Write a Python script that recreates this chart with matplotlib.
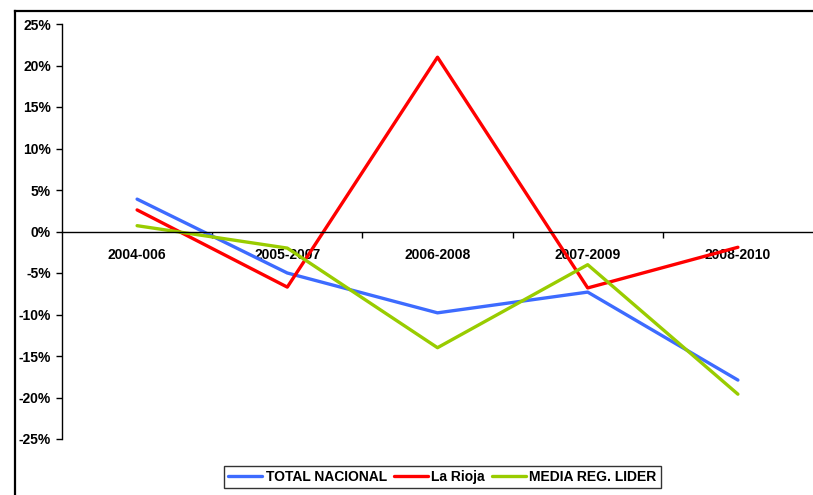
import matplotlib
matplotlib.use("Agg")
import matplotlib.pyplot as plt
from matplotlib.lines import Line2D
from matplotlib.ticker import FixedLocator, FuncFormatter

plt.rcParams['font.family'] = ['Liberation Sans', 'DejaVu Sans']

categories = ["2004-006", "2005-2007", "2006-2008", "2007-2009", "2008-2010"]
total_nacional = [3.9, -5.0, -9.8, -7.3, -17.9]
la_rioja = [2.6, -6.7, 21.0, -6.8, -1.9]
media_reg_lider = [0.7, -2.0, -14.0, -4.0, -19.6]
y_ticks = [-25, -20, -15, -10, -5, 0, 5, 10, 15, 20, 25]

W, H = 813, 495
fig = plt.figure(figsize=(W / 100, H / 100), dpi=100)

# outer frame (left and top edges only visible)
fig.lines.append(Line2D([15 / W, 15 / W], [0, 1 - 11 / H], transform=fig.transFigure,
                        color='black', linewidth=1.6))
fig.lines.append(Line2D([15 / W, 1], [1 - 11 / H, 1 - 11 / H], transform=fig.transFigure,
                        color='black', linewidth=1.6))

ax = fig.add_axes([62 / W, (H - 439) / H, (W - 62) / W, (439 - 24) / H])
x = list(range(len(categories)))
ax.plot(x, total_nacional, color='#3D6BFF', lw=2.4, label='TOTAL NACIONAL', solid_capstyle='round')
ax.plot(x, la_rioja, color='#FF0000', lw=2.4, label='La Rioja', solid_capstyle='round')
ax.plot(x, media_reg_lider, color='#99CC00', lw=2.4, label='MEDIA REG. LIDER', solid_capstyle='round')

ax.set_xlim(-0.5, len(categories) - 0.5)
ax.set_ylim(-25, 25)
ax.set_yticks(y_ticks)
ax.yaxis.set_major_formatter(FuncFormatter(lambda v, p: f"{int(round(v))}%"))
for lab in ax.get_yticklabels():
    lab.set_fontweight('bold')
ax.tick_params(axis='y', direction='out', length=4, width=1, labelsize=10, pad=4)

ax.spines['top'].set_visible(False)
ax.spines['right'].set_visible(False)
ax.spines['bottom'].set_position(('data', 0))
ax.spines['left'].set_linewidth(1)
ax.spines['bottom'].set_linewidth(1)

ax.set_xticks(x)
ax.set_xticklabels(categories, fontweight='bold', fontsize=10)
ax.tick_params(axis='x', which='major', length=0, pad=12)
ax.xaxis.set_minor_locator(FixedLocator([i + 0.5 for i in range(len(categories) - 1)]))
ax.tick_params(axis='x', which='minor', direction='out', length=4, width=1)

leg = fig.legend(loc='upper left', bbox_to_anchor=(224 / W, 1 - 466 / H), ncol=3,
                 prop={'weight': 'bold', 'size': 10}, frameon=True, fancybox=False,
                 handlelength=2.45, handletextpad=0.25, columnspacing=0.5,
                 borderpad=0.3, borderaxespad=0)
leg.get_frame().set_edgecolor('black')
leg.get_frame().set_linewidth(1)

fig.savefig('out.png', dpi=100)
